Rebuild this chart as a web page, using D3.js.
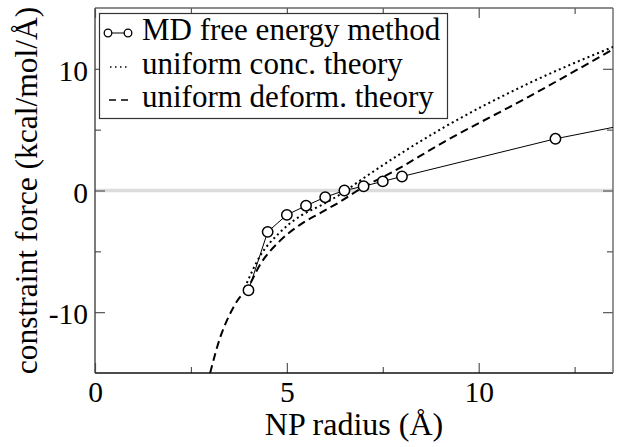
<!DOCTYPE html>
<html lang="en">
<head>
<meta charset="UTF-8">
<title>constraint force vs NP radius</title>
<script src="https://d3js.org/d3.v7.min.js"></script>
<style>
  body { margin: 0; background: #fff; }
</style>
</head>
<body>
<div id="chart"></div>
<script>
// MD free energy method (circles)
const mdRadius = [4, 4.5, 5, 5.5, 6, 6.5, 7, 7.5, 8, 12, 14];
const mdForce  = [-8.2, -3.4, -2.0, -1.25, -0.55, 0.0, 0.35, 0.75, 1.15, 4.25, 5.5];

// uniform conc. theory (dotted)
const concRadius = [3.9, 4.3, 4.8, 5.35, 5.9, 6.4, 6.9, 8.0, 9.1, 11.3, 13.5];
const concForce  = [-8.0, -5.4, -3.5, -2.1, -1.2, -0.3, 0.8, 3.1, 5.2, 8.8, 11.8];

// uniform deform. theory (dashed)
const deformRadius = [3.0, 3.26, 3.45, 3.7, 4.0, 4.3, 4.8, 5.35, 5.9, 6.4, 6.9, 7.8, 9.1, 11.3, 13.5];
const deformForce  = [-15, -12.1, -10.6, -9.1, -7.9, -6.1, -4.2, -2.8, -1.8, -0.9, 0.1, 1.6, 4.0, 7.7, 11.6];

const xMajor = [0, 5, 10];
const xMinor = [2.5, 7.5, 12.5];
const yMajor = [-10, 0, 10];
const yMinor = [-5, 5];

const legendLabels = ["MD free energy method", "uniform conc. theory", "uniform deform. theory"];

const FONT = "Liberation Serif";

const W = 620, H = 447;
const margin = { top: 8, right: 7, bottom: 74, left: 95 };
const width = W - margin.left - margin.right;
const height = H - margin.top - margin.bottom;

const svg = d3.select("#chart").append("svg")
    .attr("width", W)
    .attr("height", H)
    .style("font-family", FONT);

const g = svg.append("g")
    .attr("transform", "translate(" + margin.left + "," + margin.top + ")");

const x = d3.scaleLinear().domain([0, 13.5]).range([0, width]);
const y = d3.scaleLinear().domain([-15, 15]).range([height, 0]);

svg.append("defs").append("clipPath").attr("id", "plotclip")
  .append("rect").attr("width", width).attr("height", height);

// grey zero line
g.append("line")
    .attr("x1", 0).attr("x2", width)
    .attr("y1", y(0)).attr("y2", y(0))
    .attr("stroke", "#dcdcdc")
    .attr("stroke-width", 3.5);

// axes: ticks pointing inward on all four sides
const fmt = d => String(d);
function styleAxis(sel, fontSize) {
  sel.attr("font-family", null).attr("font-size", null);
  sel.select(".domain").remove();
  sel.selectAll(".tick line").attr("stroke", "#555").attr("stroke-width", 1.2);
  sel.selectAll(".tick text")
    .attr("font-family", FONT)
    .attr("font-size", fontSize)
    .attr("fill", "#000");
}

g.append("g").attr("transform", "translate(0," + height + ")")
  .call(d3.axisBottom(x).tickValues(xMajor).tickFormat(fmt).tickSizeInner(-10).tickSizeOuter(0).tickPadding(8))
  .call(s => styleAxis(s, 29.5));
g.append("g").attr("transform", "translate(0," + height + ")")
  .call(d3.axisBottom(x).tickValues(xMinor).tickFormat("").tickSizeInner(-6).tickSizeOuter(0))
  .call(s => styleAxis(s, 0));
g.append("g")
  .call(d3.axisTop(x).tickValues(xMajor).tickFormat("").tickSizeInner(-10).tickSizeOuter(0))
  .call(s => styleAxis(s, 0));
g.append("g")
  .call(d3.axisTop(x).tickValues(xMinor).tickFormat("").tickSizeInner(-6).tickSizeOuter(0))
  .call(s => styleAxis(s, 0));

g.append("g")
  .call(d3.axisLeft(y).tickValues(yMajor).tickFormat(fmt).tickSizeInner(-10).tickSizeOuter(0).tickPadding(7))
  .call(s => styleAxis(s, 29.5))
  .selectAll(".tick text").attr("dy", "0.4em");
g.append("g")
  .call(d3.axisLeft(y).tickValues(yMinor).tickFormat("").tickSizeInner(-6).tickSizeOuter(0))
  .call(s => styleAxis(s, 0));
g.append("g").attr("transform", "translate(" + width + ",0)")
  .call(d3.axisRight(y).tickValues(yMajor).tickFormat("").tickSizeInner(-10).tickSizeOuter(0))
  .call(s => styleAxis(s, 0));
g.append("g").attr("transform", "translate(" + width + ",0)")
  .call(d3.axisRight(y).tickValues(yMinor).tickFormat("").tickSizeInner(-6).tickSizeOuter(0))
  .call(s => styleAxis(s, 0));

// frame
g.append("line").attr("x1", 0).attr("x2", width).attr("y1", height).attr("y2", height)
  .attr("stroke", "#111").attr("stroke-width", 1.6);
g.append("line").attr("x1", 0).attr("x2", 0).attr("y1", 0).attr("y2", height)
  .attr("stroke", "#444").attr("stroke-width", 1.4);
g.append("line").attr("x1", 0).attr("x2", width).attr("y1", 0).attr("y2", 0)
  .attr("stroke", "#666").attr("stroke-width", 1.4);
g.append("line").attr("x1", width).attr("x2", width).attr("y1", 0).attr("y2", height)
  .attr("stroke", "#666").attr("stroke-width", 1.4);

// data
const plot = g.append("g").attr("clip-path", "url(#plotclip)");

const line = d3.line().x(d => x(d[0])).y(d => y(d[1]));
const smooth = d3.line().x(d => x(d[0])).y(d => y(d[1])).curve(d3.curveMonotoneX);

const md = mdRadius.map((r, i) => [r, mdForce[i]]);
const conc = concRadius.map((r, i) => [r, concForce[i]]);
const deform = deformRadius.map((r, i) => [r, deformForce[i]]);

plot.append("path").datum(conc)
    .attr("d", smooth).attr("fill", "none").attr("stroke", "#000")
    .attr("stroke-width", 2).attr("stroke-dasharray", "2,3.2");

plot.append("path").datum(deform)
    .attr("d", smooth).attr("fill", "none").attr("stroke", "#000")
    .attr("stroke-width", 2).attr("stroke-dasharray", "8,4.5");

plot.append("path").datum(md)
    .attr("d", line).attr("fill", "none").attr("stroke", "#000").attr("stroke-width", 1);

plot.selectAll("circle.md").data(md).enter()
  .append("circle")
    .attr("class", "md")
    .attr("cx", d => x(d[0]))
    .attr("cy", d => y(d[1]))
    .attr("r", 5.2)
    .attr("fill", "#fff")
    .attr("stroke", "#000")
    .attr("stroke-width", 1.5);

// legend
const lg = svg.append("g");
lg.append("rect")
    .attr("x", 99.5).attr("y", 13.5)
    .attr("width", 348).attr("height", 105)
    .attr("fill", "#fff").attr("stroke", "#333").attr("stroke-width", 1.2);

const rowY = [40, 73.5, 107];
legendLabels.forEach((t, i) => {
  lg.append("text")
    .attr("x", 142).attr("y", rowY[i])
    .attr("font-family", FONT)
    .attr("font-size", 31)
    .text(t);
});

lg.append("line").attr("x1", 108).attr("x2", 128).attr("y1", 33).attr("y2", 33)
  .attr("stroke", "#000").attr("stroke-width", 1);
[108, 128].forEach(cx => {
  lg.append("circle").attr("cx", cx).attr("cy", 33).attr("r", 3.8)
    .attr("fill", "#fff").attr("stroke", "#000").attr("stroke-width", 1.3);
});
lg.append("line").attr("x1", 110).attr("x2", 130).attr("y1", 67).attr("y2", 67)
  .attr("stroke", "#000").attr("stroke-width", 1.5).attr("stroke-dasharray", "1.5,3.5");
lg.append("line").attr("x1", 109).attr("x2", 131).attr("y1", 100).attr("y2", 100)
  .attr("stroke", "#000").attr("stroke-width", 1.6).attr("stroke-dasharray", "7,5");

// axis labels
svg.append("text")
    .attr("x", margin.left + width / 2)
    .attr("y", 435)
    .attr("text-anchor", "middle")
    .attr("font-family", FONT)
    .attr("font-size", 32)
    .text("NP radius (Å)");

svg.append("text")
    .attr("transform", "translate(37," + (margin.top + height / 2) + ") rotate(-90)")
    .attr("text-anchor", "middle")
    .attr("font-family", FONT)
    .attr("font-size", 31.5)
    .text("constraint force (kcal/mol/Å)");
</script>
</body>
</html>
